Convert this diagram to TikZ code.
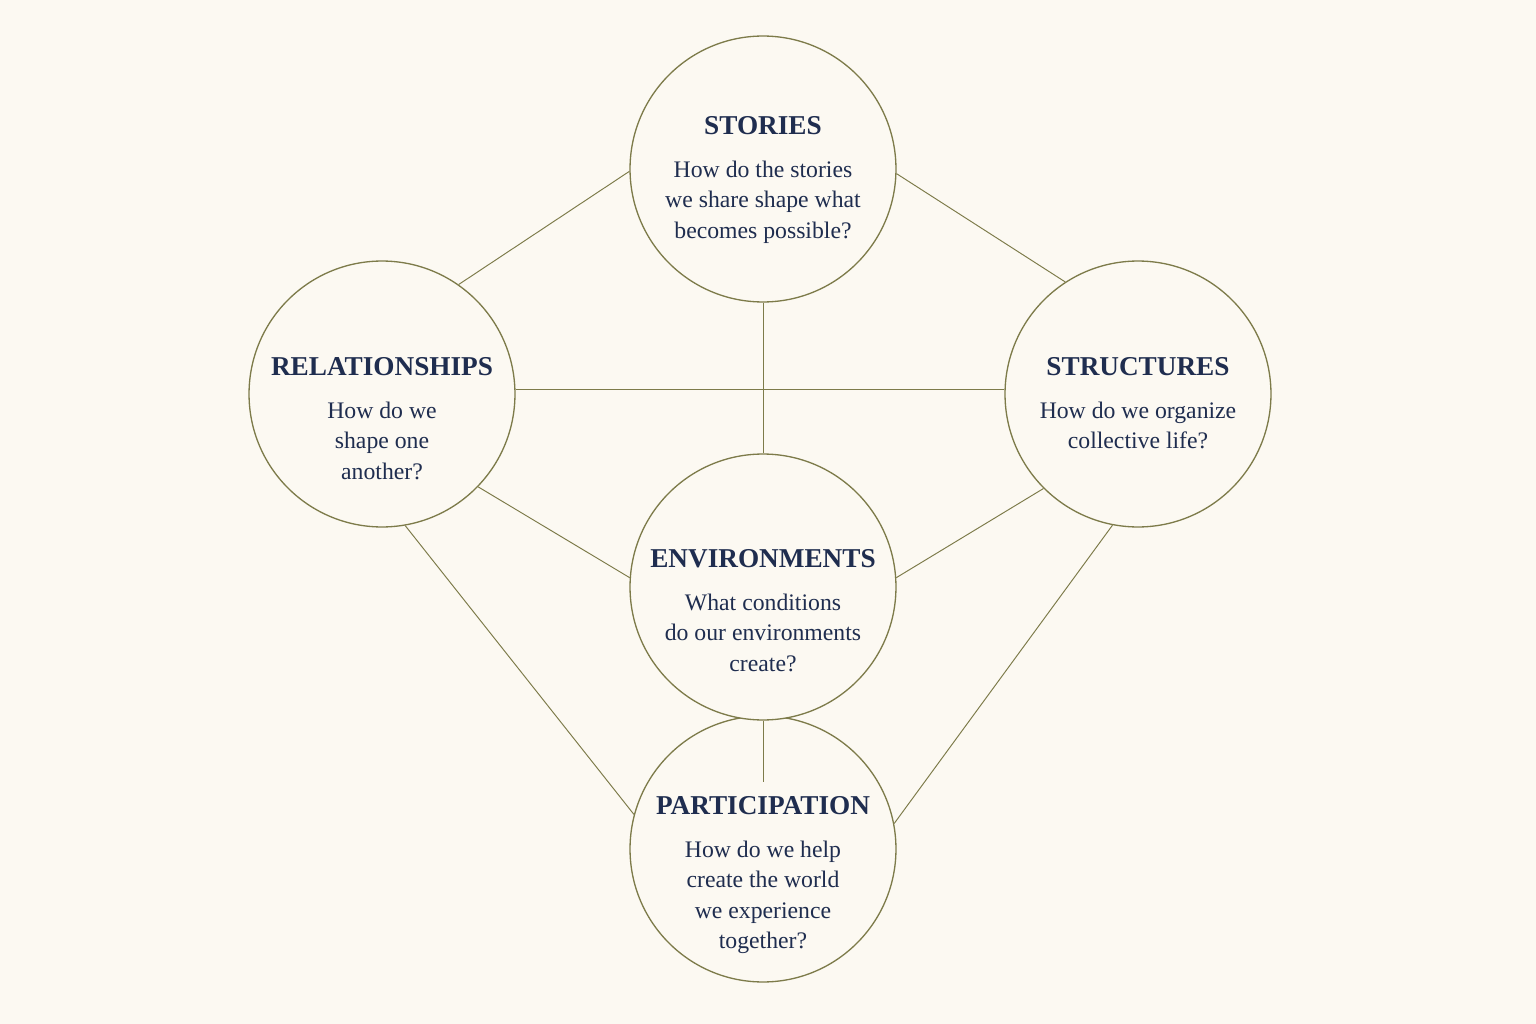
\documentclass[tikz,border=0pt]{standalone}
\usepackage{fontspec}
\setmainfont{Liberation Serif}
\usetikzlibrary{positioning}
\definecolor{paper}{HTML}{FCF9F2}
\definecolor{rim}{HTML}{7D7B4A}
\definecolor{ink}{HTML}{1F2D4F}
\tikzset{
	hub/.style={circle,draw=rim,line width=0.75pt,fill=paper,minimum size=5.32cm,inner sep=0pt},
	link/.style={draw=rim,line width=0.55pt},
	head/.style={text=ink,font=\fontsize{15.5}{18}\selectfont\bfseries,inner sep=0pt},
	ask/.style={text=ink,font=\fontsize{13.5}{17.3}\selectfont,align=center,inner sep=0pt,below=0.5cm of #1},
}
\begin{document}
\begin{tikzpicture}[x=0.02cm,y=-0.02cm]
	\fill[paper] (0,0) rectangle (1536,1024);
	\node[hub] (stories) at (763,169) {};
	\node[hub] (relationships) at (382,394) {};
	\node[hub] (structures) at (1138,394) {};
	\node[hub] (participation) at (763,849) {};
	\node[hub] (environments) at (763,587) {};
	\coordinate (tail) at (763,782);
	% connectors
	\draw[link] (stories.181) -- (relationships.55);
	\draw[link] (stories.-2) -- (structures.123);
	\draw[link] (stories.south) -- (environments.north);
	\draw[link] (relationships.2) -- (structures.178);
	\draw[link] (relationships.-44) -- (environments.176);
	\draw[link] (structures.-135) -- (environments.4);
	\draw[link] (relationships.-80) -- (participation.165);
	\draw[link] (structures.-101) -- (participation.11);
	\draw[link] (environments.south) -- (tail);
	% texts
	\node[head] (storiesH) at (763,126) {STORIES};
	\node[ask=storiesH] (storiesQ) {How do the stories\\we share shape what\\becomes possible?};
	\node[head] (relationshipsH) at (382,367) {RELATIONSHIPS};
	\node[ask=relationshipsH] (relationshipsQ) {How do we\\shape one\\another?};
	\node[head] (structuresH) at (1138,367) {STRUCTURES};
	\node[ask=structuresH] (structuresQ) {How do we organize\\collective life?};
	\node[head] (environmentsH) at (763,559) {ENVIRONMENTS};
	\node[ask=environmentsH] (environmentsQ) {What conditions\\do our environments\\create?};
	\node[head] (participationH) at (763,806) {PARTICIPATION};
	\node[ask=participationH] (participationQ) {How do we help\\create the world\\we experience\\together?};
\end{tikzpicture}
\end{document}
